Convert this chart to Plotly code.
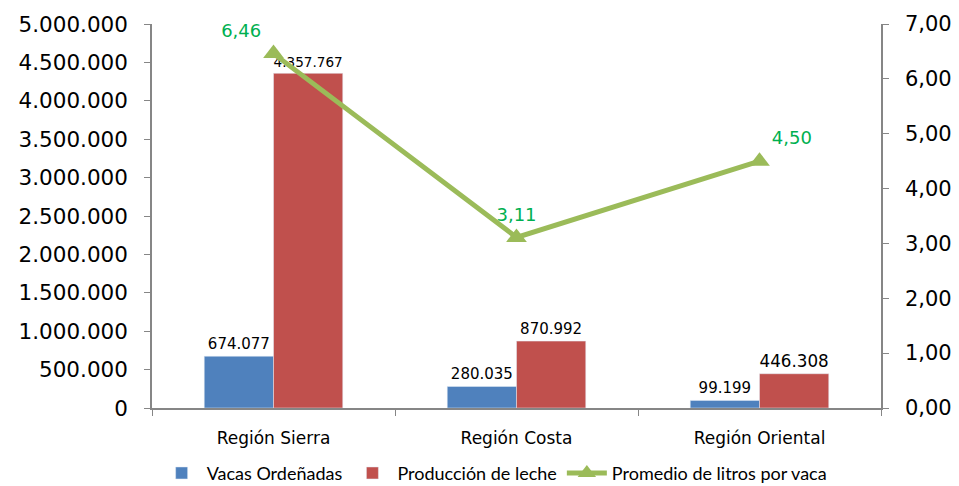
import plotly.graph_objects as go

# Datos por región
regiones = ["Región Sierra", "Región Costa", "Región Oriental"]
vacas = [674077, 280035, 99199]
produccion = [4357767, 870992, 446308]
promedio = [6.46, 3.11, 4.50]

AZUL = "#4F81BD"
ROJO = "#C0504D"
VERDE = "#9BBB59"
EJE = "#868686"
FUENTE = "Lato, 'Open Sans', sans-serif"

fig = go.Figure()

fig.add_trace(go.Bar(
    x=regiones, y=vacas, name="Vacas Ordeñadas",
    marker=dict(color=AZUL),
    texttemplate="%{y:,d}", textposition="outside",
    textfont=dict(family="DejaVu Sans", size=15, color="#000000"),
    cliponaxis=False,
))

fig.add_trace(go.Bar(
    x=regiones, y=produccion, name="Producción de leche",
    marker=dict(color=ROJO),
    texttemplate="%{y:,d}", textposition="outside",
    textfont=dict(family="DejaVu Sans", size=[15.5, 15, 19], color="#000000"),
    cliponaxis=False,
))

fig.add_trace(go.Scatter(
    x=regiones, y=promedio, name="Promedio de litros por vaca",
    yaxis="y2", mode="lines+markers+text",
    line=dict(color=VERDE, width=5),
    marker=dict(symbol="triangle-up", size=18, color=VERDE),
    texttemplate="%{y:.2f}",
    textposition=["top left", "top center", "top right"],
    textfont=dict(family="DejaVu Sans", size=18, color="#00B050"),
    cliponaxis=False,
))

# la página añade 8px de margen al cuerpo
fig.update_layout(
    width=951, height=478,
    margin=dict(l=144, r=78, t=16, b=78, autoexpand=False),
    paper_bgcolor="white", plot_bgcolor="white",
    separators=",.",
    barmode="group", bargap=0.43, bargroupgap=0,
    font=dict(family=FUENTE, color="#000000"),
    showlegend=True,
    legend=dict(
        orientation="h", x=0.47, xanchor="center", y=-0.17, yanchor="middle",
        font=dict(family=FUENTE, size=18), traceorder="normal",
        itemwidth=40, bgcolor="rgba(0,0,0,0)",
    ),
    xaxis=dict(
        showline=True, linecolor=EJE, linewidth=1.5,
        ticks="outside", tickson="boundaries", ticklen=6, tickcolor=EJE,
        tickfont=dict(family="DejaVu Sans", size=17),
        ticklabelstandoff=14,
        showgrid=False,
    ),
    yaxis=dict(
        range=[0, 5000000], dtick=500000, tickformat=",d",
        showline=True, linecolor=EJE, linewidth=1.5,
        ticks="outside", ticklen=6, tickcolor=EJE,
        tickfont=dict(family="DejaVu Sans", size=21.5),
        ticklabelstandoff=12,
        showgrid=False, zeroline=False,
    ),
    yaxis2=dict(
        range=[0, 7], dtick=1, tickformat=".2f",
        overlaying="y", side="right",
        showline=True, linecolor=EJE, linewidth=1.5,
        ticks="outside", ticklen=6, tickcolor=EJE,
        tickfont=dict(family="DejaVu Sans", size=21),
        ticklabelstandoff=12,
        showgrid=False, zeroline=False,
    ),
)

fig.write_html("out.html")
